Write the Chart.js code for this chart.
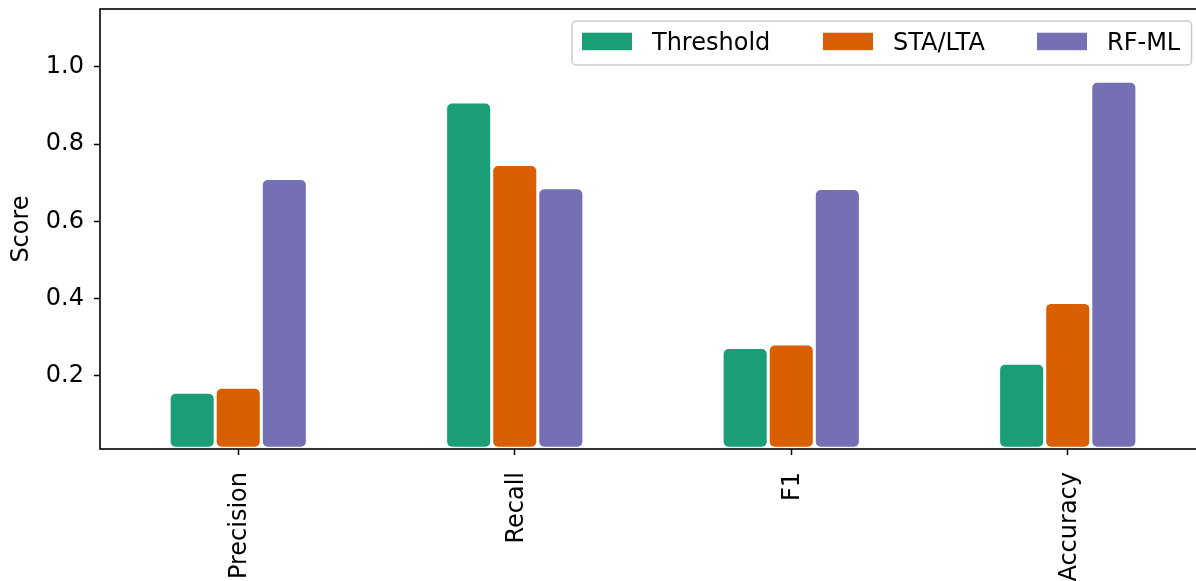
<!DOCTYPE html>
<html>
<head>
<meta charset="utf-8">
<script src="https://cdn.jsdelivr.net/npm/chart.js@4.4.1/dist/chart.umd.min.js"></script>
<style>
  html, body { margin: 0; padding: 0; background: #fff; overflow: hidden; }
  #wrap { width: 1196px; height: 581px; overflow: hidden; }
  canvas { display: block; }
</style>
</head>
<body>
<div id="wrap"><canvas id="scores" width="1206" height="581"></canvas></div>
<script>
// Detection metrics per method
const metrics = ['Precision', 'Recall', 'F1', 'Accuracy'];
const thresholdScores = [0.153, 0.905, 0.269, 0.228];
const staLtaScores    = [0.166, 0.743, 0.278, 0.386];
const rfMlScores      = [0.707, 0.683, 0.681, 0.959];
const scoreTicks      = [0.2, 0.4, 0.6, 0.8, 1.0];
const seriesNames     = ['Threshold', 'STA/LTA', 'RF-ML'];
const seriesColors    = ['#1b9e77', '#d95f02', '#7570b3'];

const FONT = "'DejaVu Sans', 'Liberation Sans', sans-serif";
const BAR_BASE = 0.016;

// Four-sided frame around the plotting area
const frame = {
  id: 'frame',
  afterDatasetsDraw(chart) {
    const { ctx, chartArea: a } = chart;
    ctx.save();
    ctx.strokeStyle = '#000';
    ctx.lineWidth = 1.6;
    ctx.strokeRect(a.left, a.top, a.right - a.left, a.bottom - a.top);
    ctx.restore();
  }
};

// Boxed legend in the upper right of the plot
const boxLegend = {
  id: 'boxLegend',
  afterDraw(chart) {
    const { ctx } = chart;
    const x0 = 572, y0 = 21, w = 619.5, h = 44, r = 4;
    ctx.save();
    ctx.beginPath();
    ctx.roundRect(x0, y0, w, h, r);
    ctx.fillStyle = 'rgba(255,255,255,0.8)';
    ctx.fill();
    ctx.strokeStyle = '#cccccc';
    ctx.lineWidth = 1.5;
    ctx.stroke();
    const patchX = [582, 823, 1037];
    ctx.font = '24px ' + FONT;
    ctx.textBaseline = 'alphabetic';
    ctx.textAlign = 'left';
    chart.data.datasets.forEach((ds, i) => {
      ctx.fillStyle = ds.backgroundColor;
      ctx.fillRect(patchX[i], 32.7, 50, 17.5);
      ctx.fillStyle = '#000';
      ctx.fillText(ds.label, patchX[i] + 70, 50);
    });
    ctx.restore();
  }
};

const datasets = [thresholdScores, staLtaScores, rfMlScores].map((vals, i) => ({
  label: seriesNames[i],
  data: vals,
  base: BAR_BASE,
  backgroundColor: seriesColors[i],
  borderWidth: 0,
  borderRadius: 5,
  borderSkipped: false,
  categoryPercentage: 0.5,
  barPercentage: 0.935
}));

new Chart(document.getElementById('scores'), {
  type: 'bar',
  data: { labels: metrics, datasets },
  plugins: [frame, boxLegend],
  options: {
    responsive: false,
    animation: false,
    devicePixelRatio: 1,
    layout: { padding: { top: 9, left: 0, right: 0, bottom: 0 } },
    plugins: { legend: { display: false }, tooltip: { enabled: false } },
    scales: {
      x: {
        type: 'category',
        offset: true,
        border: { display: false },
        grid: {
          offset: false,
          drawOnChartArea: false,
          drawTicks: true,
          tickLength: 6,
          tickColor: '#000',
          tickWidth: 1.5
        },
        ticks: {
          color: '#000',
          font: { family: FONT, size: 24 },
          minRotation: 90,
          maxRotation: 90,
          autoSkip: false,
          padding: 17,
          labelOffset: 2
        },
        afterFit(s) { s.height = 132; s.paddingLeft = 0; s.paddingRight = 0; }
      },
      y: {
        type: 'linear',
        min: 0.01,
        max: 1.15,
        border: { display: false },
        grid: {
          drawOnChartArea: false,
          drawTicks: true,
          tickLength: 6,
          tickColor: '#000',
          tickWidth: 1.5
        },
        ticks: {
          color: '#000',
          font: { family: FONT, size: 24 },
          padding: 10,
          callback: v => v.toFixed(1)
        },
        afterBuildTicks(s) { s.ticks = scoreTicks.map(v => ({ value: v })); },
        title: {
          display: true,
          text: 'Score',
          color: '#000',
          font: { family: FONT, size: 24 },
          padding: { top: 7, bottom: 0 }
        },
        afterFit(s) { s.width = 100; s.paddingTop = 0; s.paddingBottom = 0; }
      }
    }
  }
});
</script>
</body>
</html>
